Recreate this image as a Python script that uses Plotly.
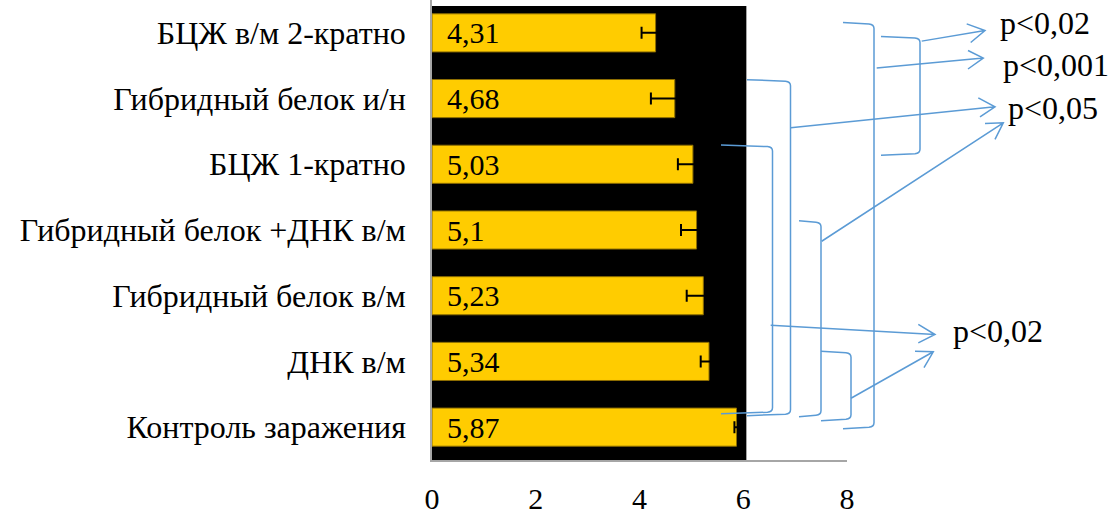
import plotly.graph_objects as go

# ---- data (top to bottom as displayed) ----
categories = [
    "БЦЖ в/м 2-кратно",
    "Гибридный белок и/н",
    "БЦЖ 1-кратно",
    "Гибридный белок +ДНК в/м",
    "Гибридный белок в/м",
    "ДНК в/м",
    "Контроль заражения",
]
values = [4.31, 4.68, 5.03, 5.10, 5.23, 5.34, 5.87]
value_labels = ["4,31", "4,68", "5,03", "5,1", "5,23", "5,34", "5,87"]
errors = [0.27, 0.46, 0.29, 0.30, 0.32, 0.16, 0.04]
x_ticks = [0, 2, 4, 6, 8]
p_labels = ["p<0,02", "p<0,001", "p<0,05", "p<0,02"]

FONT = "Liberation Serif"
BLUE = "#5B9BD5"

W, H = 1117, 515
L, R, T, B = 432, 270, 0, 53
PW, PH = W - L - R, H - T - B


def px(x):
    return (x - L) / PW


def py(y):
    return (H - B - y) / PH


fig = go.Figure()
fig.add_trace(go.Bar(
    y=categories, x=values, orientation="h",
    marker=dict(color="#FFCC00", line=dict(color="#8C6D00", width=1)),
    error_x=dict(type="data", array=errors, color="black", thickness=2, width=6),
    width=0.58,
    hoverinfo="x+y",
))

shapes = []
# black panel behind bars
shapes.append(dict(type="rect", xref="x", yref="paper", x0=0, x1=6.06,
                   y0=0, y1=py(6), fillcolor="black", line=dict(width=0),
                   layer="below"))


def bracket(x0, yt, x1, yb):
    pts = [
        f"M {px(x0)},{py(yt)}",
        f"L {px(x1 - 5)},{py(yt + 1.5)}",
        f"Q {px(x1)},{py(yt + 2)} {px(x1)},{py(yt + 6)}",
        f"L {px(x1)},{py(yb - 6)}",
        f"Q {px(x1)},{py(yb - 2)} {px(x1 - 5)},{py(yb - 1.5)}",
        f"L {px(x0)},{py(yb)}",
    ]
    return dict(type="path", xref="paper", yref="paper", path=" ".join(pts),
                line=dict(color=BLUE, width=1.5), layer="above")


def arrow(s, t, w1, w2):
    path = (f"M {px(s[0])},{py(s[1])} L {px(t[0])},{py(t[1])} "
            f"M {px(w1[0])},{py(w1[1])} L {px(t[0])},{py(t[1])} L {px(w2[0])},{py(w2[1])}")
    return dict(type="path", xref="paper", yref="paper", path=path,
                line=dict(color=BLUE, width=1.5), layer="above")


brackets = [
    (843, 22.7, 874, 430.5),
    (881, 36.7, 920, 156),
    (747, 80, 790.5, 417.5),
    (721, 145.7, 772.5, 415.5),
    (799, 221.7, 821, 418.5),
    (821, 352.7, 851, 422.5),
]
for b in brackets:
    shapes.append(bracket(*b))

arrows = [
    ((876.7, 68.3), (983.3, 58.3), (968, 50.7), (968, 69.3)),
    ((921.7, 41.3), (985, 30.7), (966.7, 24), (970.7, 42.7)),
    ((790.7, 128.3), (995, 107.3), (978.3, 98.3), (980, 117.3)),
    ((770.7, 326.7), (935, 336), (918.3, 325.7), (918.3, 344.3)),
    ((821.7, 242.3), (1003.3, 123.3), (985, 124), (995, 140)),
    ((851, 400), (933.3, 353.3), (915, 352.7), (924, 369.3)),
]
for a in arrows:
    shapes.append(arrow(*a))

annotations = []
for cat, lab in zip(categories, value_labels):
    annotations.append(dict(x=0, y=cat, xref="x", yref="y", text=lab,
                            showarrow=False, xanchor="left", xshift=13,
                            font=dict(family=FONT, size=30, color="black")))

p_pos = [(998, 23), (1001, 65), (1006, 108), (951, 332)]
for lab, (x, y) in zip(p_labels, p_pos):
    annotations.append(dict(x=px(x), y=py(y), xref="paper", yref="paper",
                            text=lab.replace("<", "&lt;"), showarrow=False,
                            xanchor="left", yanchor="middle",
                            font=dict(family=FONT, size=32, color="black")))

fig.update_layout(
    width=W, height=H,
    margin=dict(l=L, r=R, t=T, b=B, pad=0),
    paper_bgcolor="white", plot_bgcolor="white",
    showlegend=False, bargap=0.42,
    font=dict(family=FONT, size=30, color="black"),
    shapes=shapes, annotations=annotations,
    xaxis=dict(range=[0, 8], tickvals=x_ticks, ticktext=[str(v) for v in x_ticks],
               showgrid=False, zeroline=False, showline=True, linecolor="#A6A6A6",
               linewidth=1.5, ticks="outside", ticklen=11, tickcolor="rgba(0,0,0,0)",
               tickfont=dict(family=FONT, size=30, color="black")),
    yaxis=dict(autorange=False, range=[6.5, -0.5], showgrid=False, zeroline=False,
               showline=True, linecolor="#A6A6A6", linewidth=1.5,
               ticks="", ticklabelstandoff=18,
               tickfont=dict(family=FONT, size=32, color="black")),
)

fig.write_html("out.html", config={"displayModeBar": False},
               post_script="document.body.style.margin='0';document.body.style.overflow='hidden';")
